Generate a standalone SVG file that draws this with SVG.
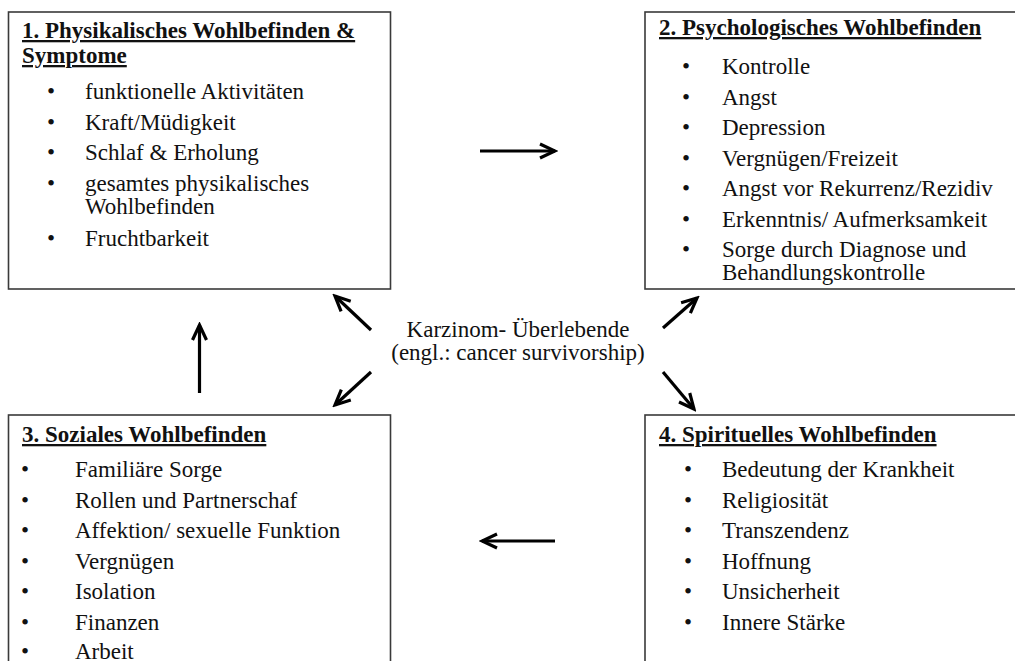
<svg xmlns="http://www.w3.org/2000/svg" width="1015" height="661" viewBox="0 0 1015 661">
<style>
text{font-family:"Liberation Serif","Times New Roman",Times,"DejaVu Serif",serif;font-size:23px;fill:#111}
.t{font-weight:bold;text-decoration:underline}
.box{fill:#fff;stroke:#3a3a3a;stroke-width:1.6}
.arr{stroke:#000;stroke-width:3.2;fill:none;marker-end:url(#ah)}
</style>
<defs>
<marker id="ah" viewBox="0 0 20 20" markerWidth="20" markerHeight="20" markerUnits="userSpaceOnUse" refX="17" refY="10" orient="auto">
<path d="M2,3 L17,10 L2,17" fill="none" stroke="#000" stroke-width="3.2"/>
</marker>
</defs>
<rect width="1015" height="661" fill="#fff"/>
<g id="node1">
<rect class="box" x="8.5" y="12" width="382" height="277"/>
<text class="t" x="22" y="38" font-family="Liberation Serif, serif">1. Physikalisches Wohlbefinden &amp;</text>
<text class="t" x="22" y="63">Symptome</text>
<text x="47" y="99">•</text><text x="85" y="99">funktionelle Aktivitäten</text>
<text x="47" y="129.5">•</text><text x="85" y="129.5">Kraft/Müdigkeit</text>
<text x="47" y="160">•</text><text x="85" y="160">Schlaf &amp; Erholung</text>
<text x="47" y="191">•</text><text x="85" y="191">gesamtes physikalisches</text>
<text x="85" y="214">Wohlbefinden</text>
<text x="47" y="246">•</text><text x="85" y="246">Fruchtbarkeit</text>
</g>
<g id="node2">
<rect class="box" x="645" y="12" width="385" height="277"/>
<text class="t" x="659" y="35">2. Psychologisches Wohlbefinden</text>
<text x="682" y="74">•</text><text x="722" y="74">Kontrolle</text>
<text x="682" y="104.5">•</text><text x="722" y="104.5">Angst</text>
<text x="682" y="135">•</text><text x="722" y="135">Depression</text>
<text x="682" y="165.5">•</text><text x="722" y="165.5">Vergnügen/Freizeit</text>
<text x="682" y="196">•</text><text x="722" y="196">Angst vor Rekurrenz/Rezidiv</text>
<text x="682" y="226.5">•</text><text x="722" y="226.5">Erkenntnis/ Aufmerksamkeit</text>
<text x="682" y="257">•</text><text x="722" y="257">Sorge durch Diagnose und</text>
<text x="722" y="280">Behandlungskontrolle</text>
</g>
<g id="node3">
<rect class="box" x="8.5" y="415" width="382" height="270"/>
<text class="t" x="22" y="442">3. Soziales Wohlbefinden</text>
<text x="21" y="477">•</text><text x="75" y="477">Familiäre Sorge</text>
<text x="21" y="507.5">•</text><text x="75" y="507.5">Rollen und Partnerschaf</text>
<text x="21" y="538">•</text><text x="75" y="538">Affektion/ sexuelle Funktion</text>
<text x="21" y="568.5">•</text><text x="75" y="568.5">Vergnügen</text>
<text x="21" y="599">•</text><text x="75" y="599">Isolation</text>
<text x="21" y="629.5">•</text><text x="75" y="629.5">Finanzen</text>
<text x="21" y="659">•</text><text x="75" y="659">Arbeit</text>
</g>
<g id="node4">
<rect class="box" x="645" y="415" width="385" height="270"/>
<text class="t" x="659" y="442">4. Spirituelles Wohlbefinden</text>
<text x="684" y="477">•</text><text x="722" y="477">Bedeutung der Krankheit</text>
<text x="684" y="507.5">•</text><text x="722" y="507.5">Religiosität</text>
<text x="684" y="538">•</text><text x="722" y="538">Transzendenz</text>
<text x="684" y="568.5">•</text><text x="722" y="568.5">Hoffnung</text>
<text x="684" y="599">•</text><text x="722" y="599">Unsicherheit</text>
<text x="684" y="629.5">•</text><text x="722" y="629.5">Innere Stärke</text>
</g>
<g id="center">
<text x="518" y="337" text-anchor="middle">Karzinom- Überlebende</text>
<text x="518" y="360" text-anchor="middle">(engl.: cancer survivorship)</text>
</g>
<g id="connectors">
<line class="arr" x1="480" y1="151" x2="555" y2="151"/>
<line class="arr" x1="555" y1="541" x2="482" y2="541"/>
<line class="arr" x1="199.5" y1="393" x2="199.5" y2="325"/>
<line class="arr" x1="371" y1="330" x2="335" y2="296"/>
<line class="arr" x1="371" y1="372" x2="335" y2="405"/>
<line class="arr" x1="663" y1="328" x2="697" y2="298"/>
<line class="arr" x1="663" y1="372" x2="694" y2="409"/>
</g>
</svg>
